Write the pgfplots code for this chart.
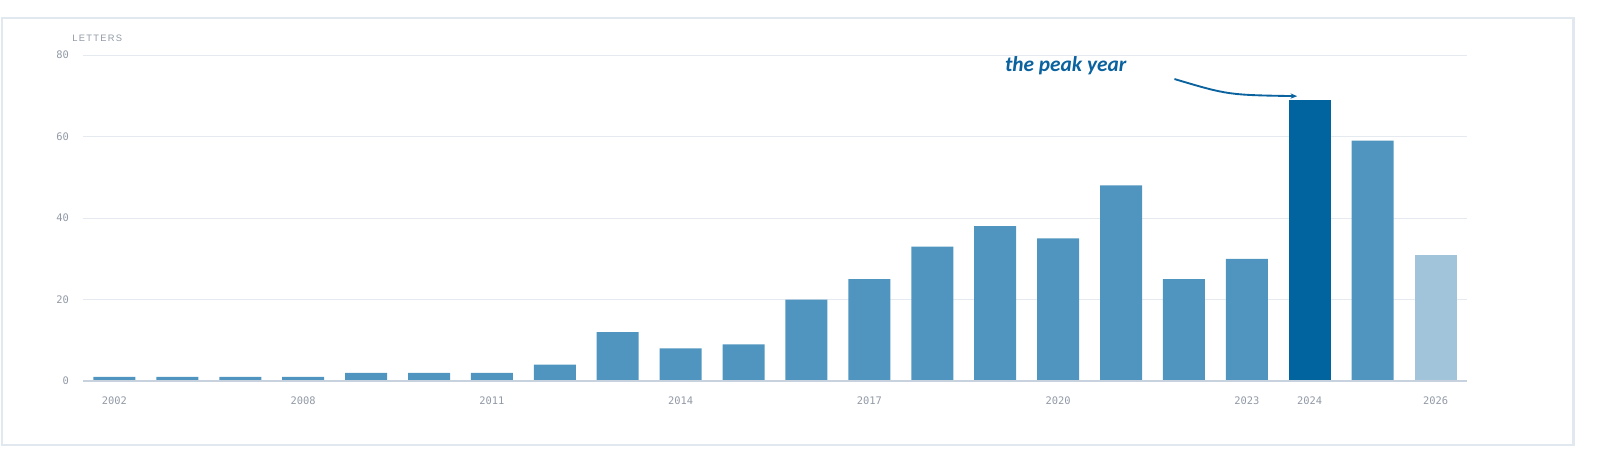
\documentclass[border=0pt]{standalone}
\usepackage{pgfplots}
\pgfplotsset{compat=1.18}
\usepackage{pgfplotstable}
\usepackage{fontspec}
\setmainfont{Liberation Sans}
\newfontfamily\monofont{DejaVu Sans Mono}
\newfontfamily\handfont{Carlito}
\usetikzlibrary{arrows.meta}

\definecolor{barmid}{RGB}{80,149,191}
\definecolor{bardark}{RGB}{2,100,158}
\definecolor{barlight}{RGB}{161,196,218}
\definecolor{gridc}{RGB}{229,234,240}
\definecolor{axisc}{RGB}{200,210,222}
\definecolor{tickc}{RGB}{145,153,166}
\definecolor{framec}{RGB}{226,232,240}
\definecolor{annot}{RGB}{10,98,158}

% letters per year (bar index, value)
\pgfplotstableread{
idx value
0 1
1 1
2 1
3 1
4 2
5 2
6 2
7 4
8 12
9 8
10 9
11 20
12 25
13 33
14 38
15 35
16 48
17 25
18 30
20 59
}\mainbars
\pgfplotstableread{
idx value
19 69
}\peakbar
\pgfplotstableread{
idx value
21 31
}\lastbar

\begin{document}
\begin{tikzpicture}
\useasboundingbox (0,0) rectangle (1200pt,340.5pt);
\draw[framec, line width=2pt] (1.5pt,6.75pt) rectangle (1180pt,327pt);

\begin{axis}[
    at={(62.25pt,54.75pt)}, anchor=south west,
    scale only axis, width=1038pt, height=244.5pt,
    xmin=-0.5, xmax=21.5, ymin=0, ymax=80,
    xtick={0,3,6,9,12,15,18,19,21},
    xticklabels={2002,2008,2011,2014,2017,2020,2023,2024,2026},
    ytick={0,20,40,60,80},
    axis line style={draw=none},
    major tick length=0pt,
    ymajorgrids, grid style={gridc, line width=0.75pt},
    /pgf/number format/assume math mode=true,
    ticklabel style={font=\monofont\fontsize{7.8}{9}\selectfont, text=tickc},
    yticklabel style={xshift=-7pt},
    xticklabel style={yshift=-8pt},
    ybar, bar width=31.5pt, bar shift=0pt,
    clip=false,
]
\addplot[fill=barmid, draw=none] table[x=idx, y=value] {\mainbars};
\addplot[fill=bardark, draw=none] table[x=idx, y=value] {\peakbar};
\addplot[fill=barlight, draw=none] table[x=idx, y=value] {\lastbar};
\draw[axisc, line width=1.2pt] (axis cs:-0.5,0) -- (axis cs:21.5,0);
\draw[annot, line width=1.4pt, -{Stealth[length=5pt, width=4pt]}]
    (axis cs:16.85,74.1) .. controls (axis cs:17.7,70.2) .. (axis cs:18.8,69.9);
\node[annot, font=\handfont\bfseries\itshape\fontsize{16}{18}\selectfont]
    at (axis cs:15.12,77.4) {the peak year};
\end{axis}

\node[anchor=west, inner sep=0pt, text=tickc,
      font=\addfontfeatures{LetterSpace=14}\fontsize{7}{8}\selectfont]
    at (54pt,312pt) {LETTERS};
\end{tikzpicture}
\end{document}
